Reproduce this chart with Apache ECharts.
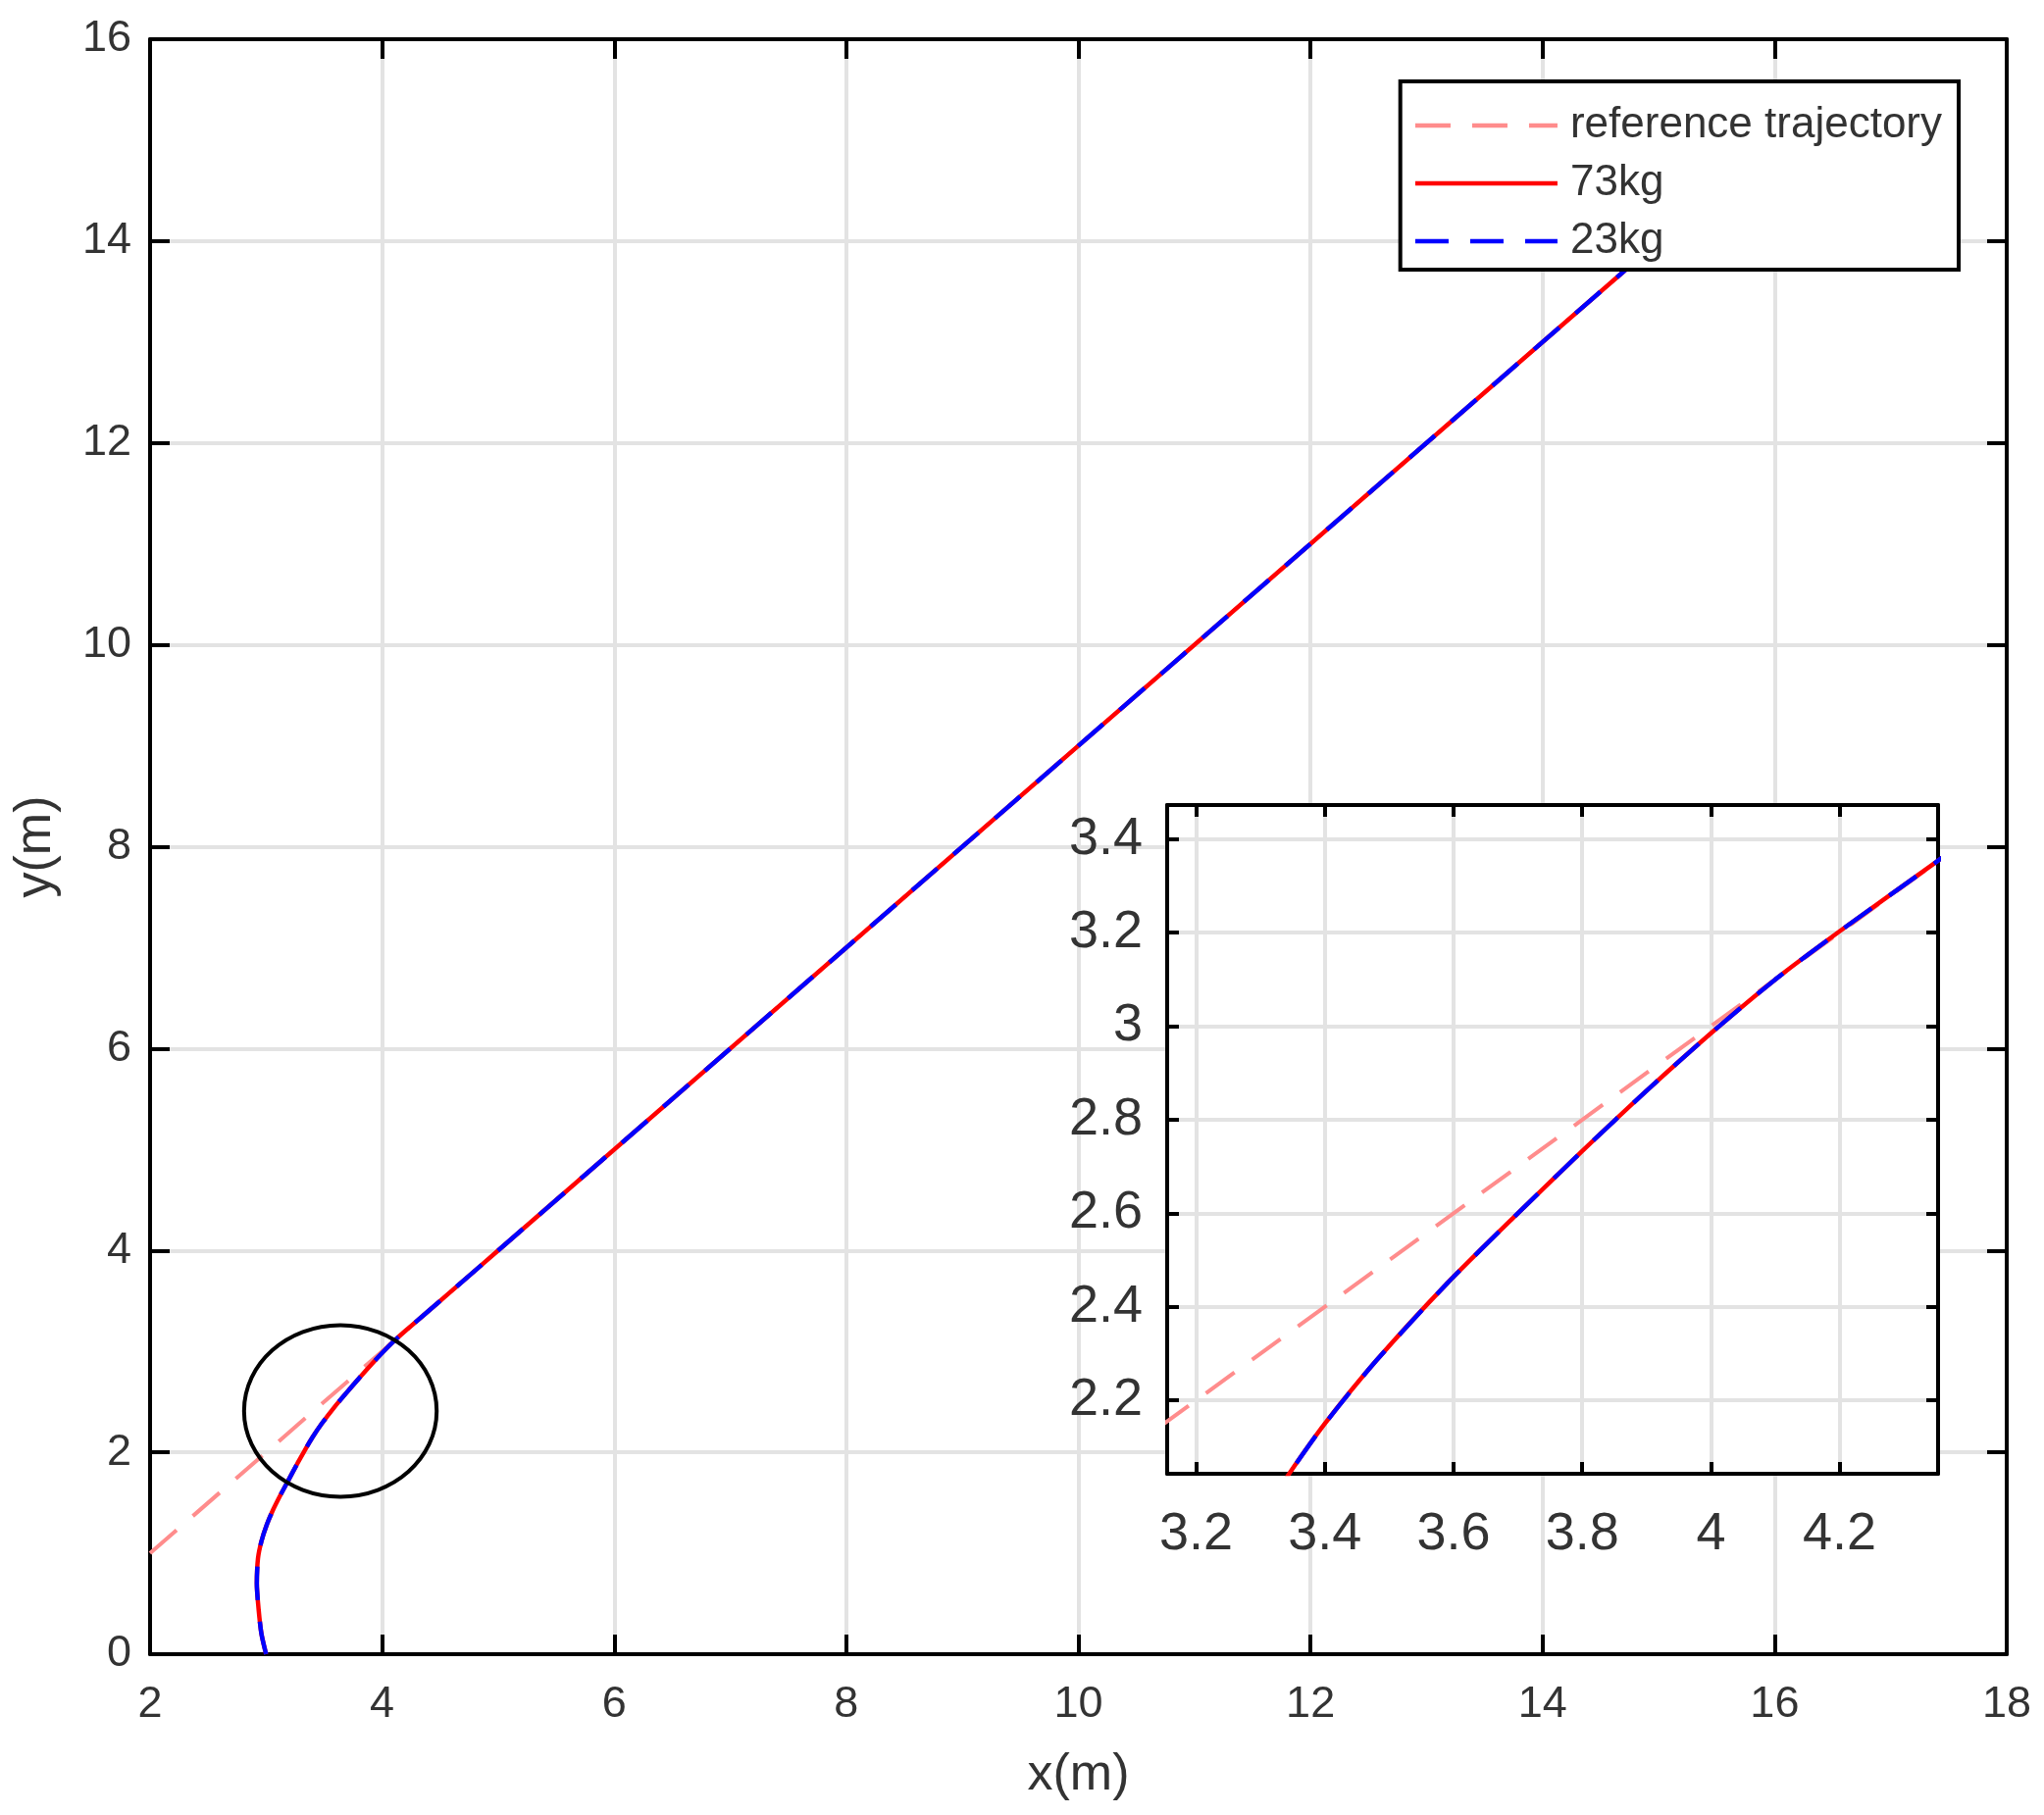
<!DOCTYPE html>
<html>
<head>
<meta charset="utf-8">
<script src="https://cdn.jsdelivr.net/npm/echarts@6/dist/echarts.min.js"></script>
<style>
html,body{margin:0;padding:0;background:#fff;}
#chart{width:2084px;height:1851px;}
</style>
</head>
<body>
<div id="chart"></div>
<script>
// ---------------- data ----------------
const seriesNames = ['reference trajectory', '73kg', '23kg'];

const refX = [2, 16];
const refY = [1, 15];

const kg73X = [3.00, 2.96, 2.935, 2.92, 2.93, 2.96, 3.005, 3.06, 3.13, 3.20, 3.27, 3.343, 3.40, 3.48, 3.59, 3.70, 3.80, 3.90, 4.00, 4.10, 4.20, 4.35, 4.60, 5.00, 16.00];
const kg73Y = [0.00, 0.20, 0.45, 0.70, 0.95, 1.12, 1.28, 1.43, 1.59, 1.74, 1.89, 2.04, 2.15, 2.285, 2.45, 2.60, 2.733, 2.862, 2.985, 3.100, 3.203, 3.351, 3.60, 4.00, 15.00];

const kg23X = [3.00, 2.96, 2.935, 2.92, 2.93, 2.96, 3.005, 3.06, 3.13, 3.20, 3.27, 3.343, 3.40, 3.48, 3.59, 3.70, 3.80, 3.90, 4.00, 4.10, 4.20, 4.35, 4.60, 5.00, 16.00];
const kg23Y = [0.00, 0.20, 0.45, 0.70, 0.95, 1.12, 1.28, 1.43, 1.59, 1.74, 1.89, 2.04, 2.15, 2.285, 2.45, 2.60, 2.733, 2.862, 2.985, 3.100, 3.203, 3.351, 3.60, 4.00, 15.00];

const mainXRange = [2, 18];
const mainYRange = [0, 16];
const mainStep = 2;

const insetXRange = [3.155, 4.353];
const insetYRange = [2.043, 3.473];

const circleCenter = [3.64, 2.41];
const circleRadius = [0.83, 0.85];

const xName = 'x(m)';
const yName = 'y(m)';

// ---------------- helpers ----------------
const zip = (xs, ys) => xs.map((x, i) => [x, ys[i]]);
const FONT = '"Liberation Sans", Arial, Helvetica, sans-serif';
const TXT = '#333333';
const GRIDC = '#e3e3e3';

const colors = ['#ff8c8c', '#ff0000', '#0000ff'];
const dashes = [[36, 22], 'solid', [34, 22]];
const widths = [4, 4.5, 4.5];
const datas = [zip(refX, refY), zip(kg73X, kg73Y), zip(kg23X, kg23Y)];

function mkSeries(xi, yi, z) {
  return seriesNames.map((n, i) => ({
    name: n, type: 'line', xAxisIndex: xi, yAxisIndex: yi,
    data: datas[i], symbol: 'none', smooth: 0.25, z: z + i,
    lineStyle: { color: colors[i], width: widths[i], type: dashes[i], cap: 'butt' },
    itemStyle: { color: colors[i] },
    emphasis: { disabled: true },
    clip: true
  }));
}

function axisBase(gridIndex, pos, z, tickLen) {
  return {
    gridIndex, position: pos, type: 'value', z,
    axisLine: { show: true, onZero: false, lineStyle: { color: '#000', width: 4 } },
    axisTick: { show: true, inside: true, length: tickLen, lineStyle: { color: '#000', width: 4 } }
  };
}

const chart = echarts.init(document.getElementById('chart'), null, { renderer: 'canvas' });

const option = {
  animation: false,
  backgroundColor: '#fff',
  grid: [
    { left: 153, top: 40, right: 38, bottom: 164, show: false },
    { left: 1190, top: 821, right: 108, bottom: 348, show: true, backgroundColor: '#fff', borderWidth: 0, z: 10 }
  ],
  legend: {
    orient: 'vertical', right: 87, top: 83, z: 6,
    data: seriesNames,
    itemWidth: 145, itemHeight: 4, itemGap: 13,
    padding: [22, 17, 6, 13],
    backgroundColor: '#fff', borderColor: '#000', borderWidth: 4, borderRadius: 0,
    itemStyle: { opacity: 0, color: 'rgba(0,0,0,0)', borderWidth: 0 },
    lineStyle: { width: 4.5 },
    textStyle: { fontSize: 44, color: TXT, fontFamily: FONT, lineHeight: 46, padding: [0, 0, 0, 8] },
    selectedMode: false
  },
  xAxis: [
    Object.assign(axisBase(0, 'bottom', 1, 20), {
      min: mainXRange[0], max: mainXRange[1], interval: mainStep,
      name: xName, nameLocation: 'middle', nameGap: 98,
      nameTextStyle: { fontSize: 52, color: TXT, fontFamily: FONT },
      axisLabel: { fontSize: 45, color: TXT, fontFamily: FONT, margin: 29 },
      splitLine: { show: true, showMinLine: false, showMaxLine: false, lineStyle: { color: GRIDC, width: 4 } }
    }),
    Object.assign(axisBase(0, 'top', 1, 20), {
      min: mainXRange[0], max: mainXRange[1], interval: mainStep,
      axisLabel: { show: false }, splitLine: { show: false }
    }),
    Object.assign(axisBase(1, 'bottom', 11, 12), {
      min: insetXRange[0], max: insetXRange[1], splitNumber: 6,
      axisLabel: { fontSize: 54, color: TXT, fontFamily: FONT, margin: 35, showMinLabel: false, showMaxLabel: false },
      splitLine: { show: true, showMinLine: false, showMaxLine: false, lineStyle: { color: GRIDC, width: 4 } }
    }),
    Object.assign(axisBase(1, 'top', 11, 12), {
      min: insetXRange[0], max: insetXRange[1], splitNumber: 6,
      axisLabel: { show: false }, splitLine: { show: false }
    })
  ],
  yAxis: [
    Object.assign(axisBase(0, 'left', 1, 20), {
      min: mainYRange[0], max: mainYRange[1], interval: mainStep,
      name: yName, nameLocation: 'middle', nameGap: 90,
      nameTextStyle: { fontSize: 52, color: TXT, fontFamily: FONT },
      axisLabel: { fontSize: 45, color: TXT, fontFamily: FONT, margin: 19 },
      splitLine: { show: true, showMinLine: false, showMaxLine: false, lineStyle: { color: GRIDC, width: 4 } }
    }),
    Object.assign(axisBase(0, 'right', 1, 20), {
      min: mainYRange[0], max: mainYRange[1], interval: mainStep,
      axisLabel: { show: false }, splitLine: { show: false }
    }),
    Object.assign(axisBase(1, 'left', 11, 12), {
      min: insetYRange[0], max: insetYRange[1], splitNumber: 7,
      axisLabel: { fontSize: 54, color: TXT, fontFamily: FONT, margin: 25, showMinLabel: false, showMaxLabel: false },
      splitLine: { show: true, showMinLine: false, showMaxLine: false, lineStyle: { color: GRIDC, width: 4 } }
    }),
    Object.assign(axisBase(1, 'right', 11, 12), {
      min: insetYRange[0], max: insetYRange[1], splitNumber: 7,
      axisLabel: { show: false }, splitLine: { show: false }
    })
  ],
  series: [].concat(mkSeries(0, 0, 2), mkSeries(2, 2, 12))
};

chart.setOption(option);

// zoom-circle annotation placed from data coordinates through the main axes
const c = chart.convertToPixel({ xAxisIndex: 0, yAxisIndex: 0 }, circleCenter);
const ex = chart.convertToPixel({ xAxisIndex: 0, yAxisIndex: 0 }, [circleCenter[0] + circleRadius[0], circleCenter[1] + circleRadius[1]]);
chart.setOption({
  graphic: [{
    type: 'ellipse', z: 30,
    shape: { cx: c[0], cy: c[1], rx: Math.abs(ex[0] - c[0]), ry: Math.abs(c[1] - ex[1]) },
    style: { fill: 'none', stroke: '#000', lineWidth: 4 }
  }]
});
</script>
</body>
</html>
